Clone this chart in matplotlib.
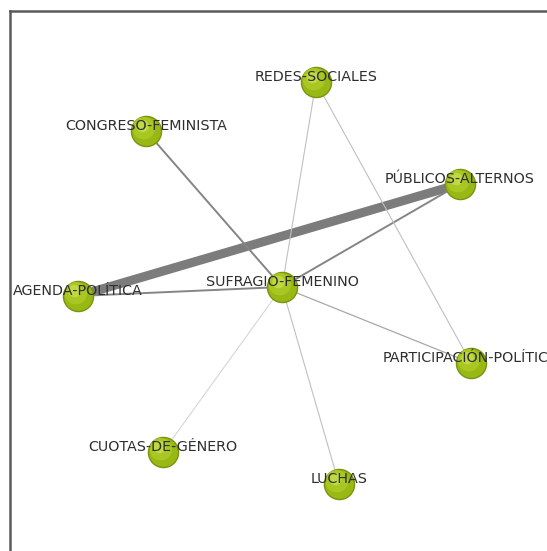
import matplotlib
matplotlib.use("Agg")
import matplotlib.pyplot as plt
import matplotlib.transforms as mtransforms

W, H = 547, 551
DPI = 100

# Node names and layout positions (pixel-like layout coordinates)
nodes = ["REDES-SOCIALES", "CONGRESO-FEMINISTA", "PÚBLICOS-ALTERNOS", "AGENDA-POLÍTICA",
         "SUFRAGIO-FEMENINO", "PARTICIPACIÓN-POLÍTICA", "CUOTAS-DE-GÉNERO", "LUCHAS"]
node_x = [316, 146, 460, 78, 282, 471, 163, 339]
node_y = [82, 131, 184, 296, 287, 363, 452, 484]

# Edges (source, target, weight)
edge_src = ["AGENDA-POLÍTICA", "SUFRAGIO-FEMENINO", "SUFRAGIO-FEMENINO", "SUFRAGIO-FEMENINO",
            "SUFRAGIO-FEMENINO", "REDES-SOCIALES", "SUFRAGIO-FEMENINO", "SUFRAGIO-FEMENINO",
            "SUFRAGIO-FEMENINO"]
edge_dst = ["PÚBLICOS-ALTERNOS", "CONGRESO-FEMINISTA", "PÚBLICOS-ALTERNOS", "AGENDA-POLÍTICA",
            "REDES-SOCIALES", "PARTICIPACIÓN-POLÍTICA", "PARTICIPACIÓN-POLÍTICA",
            "CUOTAS-DE-GÉNERO", "LUCHAS"]
edge_w = [6, 2, 2, 1.6, 1, 1, 1.1, 0.8, 1]

fig = plt.figure(figsize=(W / DPI, H / DPI), dpi=DPI)
x0, x1 = 10, 620
y0, y1 = 11, 620
ax = fig.add_axes([x0 / W, 1 - y1 / H, (x1 - x0) / W, (y1 - y0) / H])
ax.set_xlim(x0, x1)
ax.set_ylim(y1, y0)
ax.set_xticks([])
ax.set_yticks([])
for s in ax.spines.values():
    s.set_linewidth(1.8)
    s.set_color("#5a5a5a")

pos = {n: (x, y) for n, x, y in zip(nodes, node_x, node_y)}

for a, b, w in zip(edge_src, edge_dst, edge_w):
    xa, ya = pos[a]
    xb, yb = pos[b]
    if w >= 3:
        col, lw = "#7c7c7c", 6.5
    elif w >= 1.5:
        col, lw = "#858585", 1.4
    elif w >= 1.05:
        col, lw = "#a8a8a8", 0.9
    elif w >= 0.9:
        col, lw = "#c0c0c0", 0.8
    else:
        col, lw = "#d6d6d6", 0.8
    ax.plot([xa, xb], [ya, yb], color=col, lw=lw, solid_capstyle="butt", zorder=1)

# nodes
ax.scatter(node_x, node_y, s=470, color="#98b814", edgecolors="#7a9410", linewidths=1.0, zorder=3)
off = mtransforms.offset_copy(ax.transData, fig=fig, x=-1.5, y=2.0, units="points")
ax.scatter(node_x, node_y, s=260, color="#a9c722", edgecolors="none", zorder=4, transform=off)
off2 = mtransforms.offset_copy(ax.transData, fig=fig, x=-2.5, y=3.5, units="points")
ax.scatter(node_x, node_y, s=80, color="#c2da48", edgecolors="none", zorder=5, transform=off2, alpha=0.9)

for n, x, y in zip(nodes, node_x, node_y):
    ax.text(x, y - 5, n, ha="center", va="center", fontsize=10.3, color="#2e2e2e",
            family="DejaVu Sans", zorder=6)

fig.savefig("out.png", dpi=DPI)
